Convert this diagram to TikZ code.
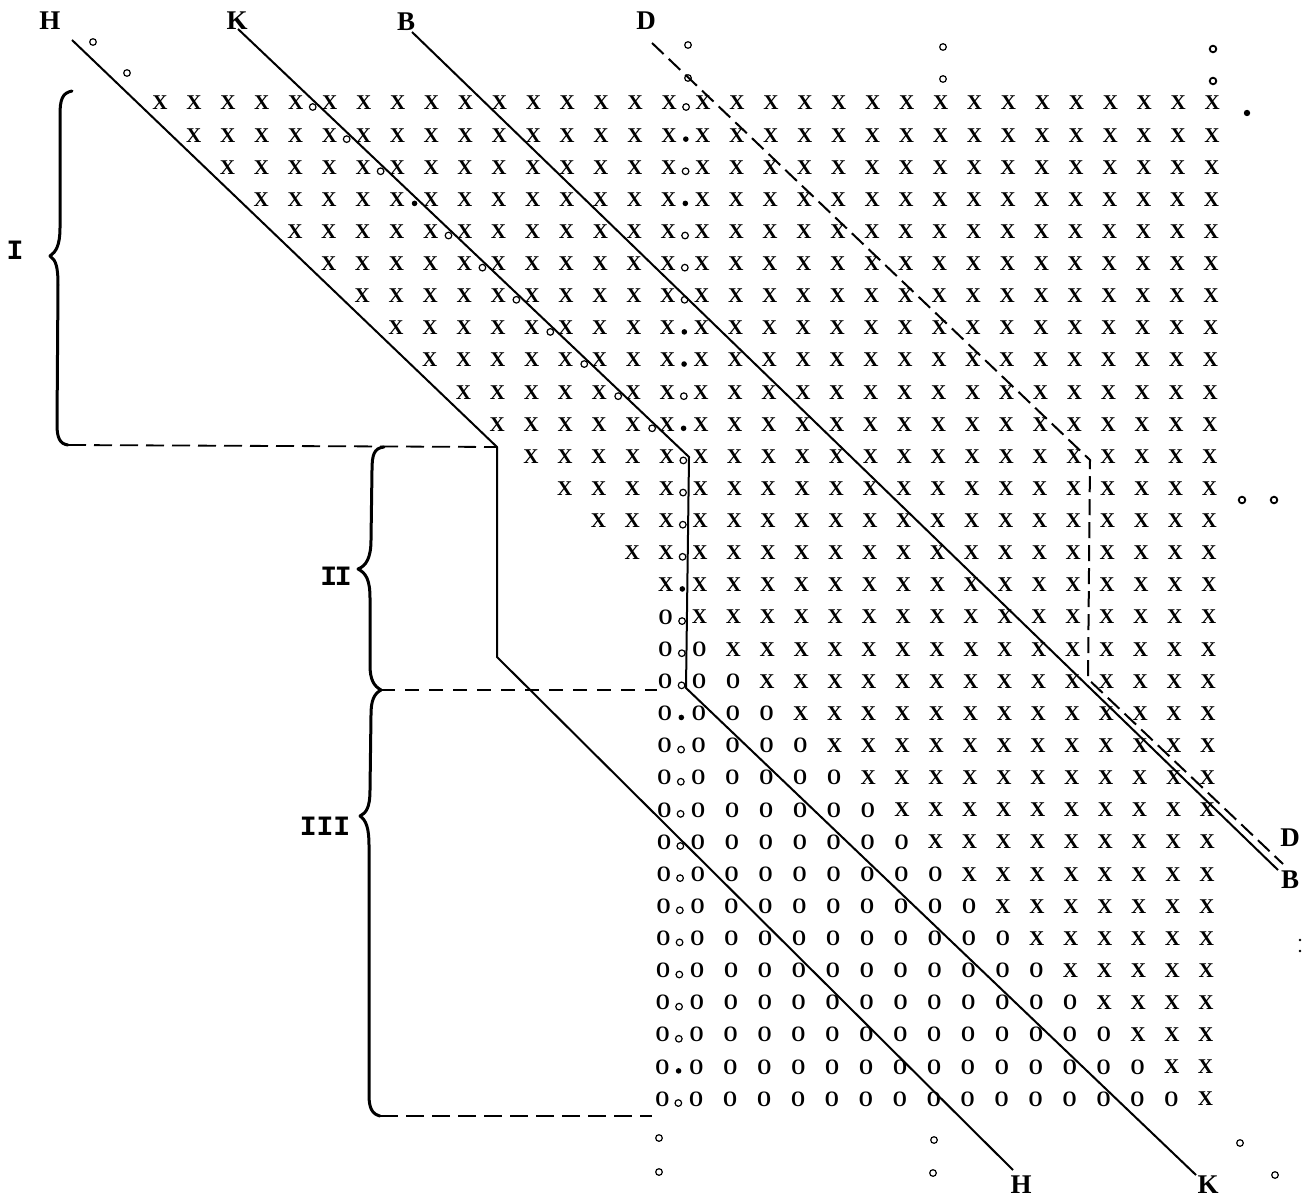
\documentclass[tikz,border=0pt]{standalone}
\usepackage{fontspec}
\setmainfont{Liberation Serif}
\newfontfamily\typew{Liberation Mono}
\begin{document}
\begin{tikzpicture}[x=0.5pt,y=-0.5pt,
  cell/.style={font=\bfseries\fontsize{10.5}{11}\selectfont, inner sep=0pt},
  ocell/.style={font=\bfseries\fontsize{11}{11}\selectfont, inner sep=0pt},
  hdot/.style={circle, draw, line width=0.6pt, inner sep=0pt, minimum size=3.3pt},
  fdot/.style={circle, fill, inner sep=0pt, minimum size=2.8pt},
  tdot/.style={circle, fill, inner sep=0pt, minimum size=1.3pt},
  lbl/.style={font=\bfseries\fontsize{13.5}{14}\selectfont, inner sep=0pt},
  rom/.style={font=\typew\bfseries\fontsize{14}{14}\selectfont, inner sep=0pt},
  solidline/.style={line width=1pt, line join=round},
  dline/.style={line width=1pt, dash pattern=on 8pt off 3.5pt},
  brk/.style={line width=1.5pt, line cap=round, line join=round},
  guide/.style={line width=0.9pt, dash pattern=on 9pt off 4pt},
  guidethin/.style={line width=0.6pt, dash pattern=on 7pt off 5pt}
]
\useasboundingbox (0,0) rectangle (1311,1198);

% ---------- labels ----------
\node[lbl] (Hlt) at (50,21) {H};
\node[lbl] (Klt) at (237,21) {K};
\node[lbl] (Blt) at (406,22) {B};
\node[lbl] (Dlt) at (646,21) {D};
\node[lbl] (Dlr) at (1290,838) {D};
\node[lbl] (Blr) at (1290,880) {B};
\node[lbl] (Hlb) at (1021,1185) {H};
\node[lbl] (Klb) at (1208,1185) {K};
\node[rom] (rI) at (15,250) {I};
\node[rom] (rII) at (336,576) {I\kern-1.2pt I};
\node[rom] (rIII) at (325,826) {III};

% ---------- line coordinates ----------
\coordinate (Htop) at (72,40);
\coordinate (Hc1) at (497,447);
\coordinate (Hc2) at (497,657);
\coordinate (Hbot) at (1013,1170);
\coordinate (Ktop) at (238,29);
\coordinate (Kc1) at (689,457);
\coordinate (Kc2) at (686,688);
\coordinate (Kbot) at (1196,1175);
\coordinate (Btop) at (412,32);
\coordinate (Bbot) at (1278,870);
\coordinate (Dtop) at (652,43);
\coordinate (Dc1) at (1090,460);
\coordinate (Dc2) at (1088,679);
\coordinate (Dbot) at (1283,864);

\draw[solidline] (Htop) -- (Hc1) -- (Hc2) -- (Hbot);
\draw[solidline] (Ktop) -- (Kc1) -- (Kc2) -- (Kbot);
\draw[solidline] (Btop) -- (Bbot);
\draw[dline] (Dtop) -- (Dc1) -- (Dc2) -- (Dbot);

% ---------- braces ----------
\coordinate (bIt) at (72,91);
\coordinate (bIb) at (68,445);
\coordinate (bIIt) at (384,447);
\coordinate (bm) at (381,690);
\coordinate (bIIIb) at (380,1116);
\coordinate (gII) at (657,690);
\coordinate (gIII) at (652,1116);

\draw[brk] (bIt) .. controls (62,93) and (60,100) .. (60,115) -- (60,228)
  .. controls (60,245) and (56,252) .. (50,256)
  .. controls (56,260) and (58,267) .. (58,285) -- (57,425)
  .. controls (57,438) and (60,444) .. (bIb);
\draw[brk] (bIIt) .. controls (374,448) and (372,455) .. (372,470) -- (371,540)
  .. controls (371,558) and (366,566) .. (358,569)
  .. controls (366,573) and (370,580) .. (370,598) -- (370,665)
  .. controls (370,680) and (374,686) .. (bm);
\draw[brk] (bm) .. controls (374,694) and (371,700) .. (371,715) -- (370,790)
  .. controls (370,808) and (366,813) .. (360,816)
  .. controls (366,820) and (369,828) .. (369,845) -- (369,1095)
  .. controls (369,1108) and (372,1114) .. (bIIIb);

\draw[guide] (bIb) -- (Hc1);
\draw[guidethin] (bm) -- (gII);
\draw[guide] (bIIIb) -- (gIII);

% ---------- matrix of X and O ----------
\foreach \r in {0,...,31}{
  \pgfmathtruncatemacro{\cs}{min(\r,15)}
  \foreach \c in {\cs,...,31}{
    \pgfmathsetmacro{\px}{160+33.94*\c-0.22*\r}
    \pgfmathsetmacro{\py}{103+32.13*\r}
    \ifnum\c<\r
      \node[ocell] (m-\r-\c) at (\px,\py) {\scalebox{0.82}[1]{O}};
    \else
      \node[cell] (m-\r-\c) at (\px,\py) {X};
    \fi
  }
}

% ---------- column of dots between columns 15 and 16 ----------
\foreach \r in {0,2,4,5,6,9,11,12,13,14,16,17,18,20,21,22,23,24,25,26,27,28,29,31}{
  \pgfmathsetmacro{\px}{160+33.94*15.5-0.25*\r}
  \pgfmathsetmacro{\py}{107+32.13*\r}
  \node[hdot] (cd-\r) at (\px,\py) {};
}
\foreach \r in {1,3,7,8,10,15,19,30}{
  \pgfmathsetmacro{\px}{160+33.94*15.5-0.25*\r}
  \pgfmathsetmacro{\py}{107+32.13*\r}
  \node[fdot] (cd-\r) at (\px,\py) {};
}
% ---------- diagonal dots ----------
\foreach \i in {0,1,2,4,5,6,7,8,9,10}{
  \pgfmathsetmacro{\px}{160+33.94*(4.5+\i)}
  \pgfmathsetmacro{\py}{107+32.13*\i}
  \node[hdot] (dd-\i) at (\px,\py) {};
}
\node[fdot] (dd-3) at ({160+33.94*7.5},{107+32.13*3}) {};

% ---------- stray marks ----------
\node[hdot] (s1) at (93,42) {};
\node[hdot] (s2) at (127,73) {};
\node[hdot] (s3) at (688,45) {};
\node[hdot] (s4) at (688,78) {};
\node[hdot] (s5) at (943,47) {};
\node[hdot] (s6) at (943,79) {};
\node[hdot, line width=0.9pt] (s7) at (1213,49) {};
\node[hdot, line width=0.9pt] (s8) at (1213,81) {};
\node[fdot, minimum size=3.2pt] (s9) at (1247,113) {};
\node[hdot, line width=0.9pt] (s10) at (1242,500) {};
\node[hdot, line width=0.9pt] (s11) at (1274,500) {};
\node[tdot] (s12) at (1300,940) {};
\node[tdot] (s13) at (1300,951) {};
\node[hdot] (s14) at (659,1138) {};
\node[hdot] (s15) at (659,1172) {};
\node[hdot] (s16) at (934,1140) {};
\node[hdot] (s17) at (933,1173) {};
\node[hdot] (s18) at (1240,1143) {};
\node[hdot] (s19) at (1275,1175) {};
\end{tikzpicture}
\end{document}
